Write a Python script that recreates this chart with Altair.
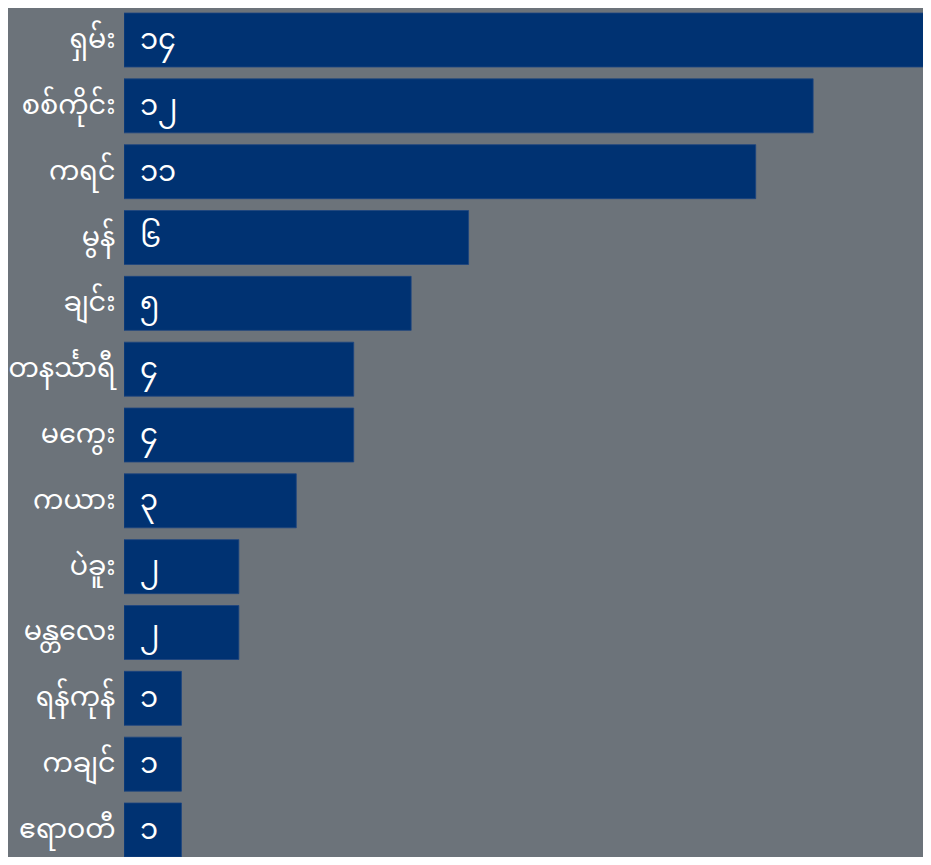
import altair as alt
import pandas as pd

regions = ["ရှမ်း", "စစ်ကိုင်း", "ကရင်", "မွန်", "ချင်း", "တနင်္သာရီ", "မကွေး",
           "ကယား", "ပဲခူး", "မန္တလေး", "ရန်ကုန်", "ကချင်", "ဧရာဝတီ"]
counts = [14, 12, 11, 6, 5, 4, 4, 3, 2, 2, 1, 1, 1]

digits = str.maketrans("0123456789", "၀၁၂၃၄၅၆၇၈၉")
df = pd.DataFrame({
    "region": regions,
    "count": counts,
    "label": [str(c).translate(digits) for c in counts],
})

FONT = "Noto Sans Myanmar, Noto Sans, sans-serif"
BG = "#6c737a"
BAR = "#003272"

y_enc = alt.Y(
    "region:N",
    sort=regions,
    scale=alt.Scale(range=[-0.9, 854.9], paddingInner=0.18, paddingOuter=0.09),
    axis=alt.Axis(title=None, ticks=False, domain=False, labelColor="white",
                  labelFont=FONT, labelFontSize=27, labelPadding=9,
                  labelLimit=200),
)
x_scale = alt.Scale(domain=[0, 13.913], nice=False, zero=True)

bars = alt.Chart(df).mark_bar(color=BAR, clip=True, stroke="#1d4580",
                              strokeWidth=0.8).encode(
    x=alt.X("count:Q", scale=x_scale, axis=None),
    y=y_enc,
)

texts = alt.Chart(df).mark_text(align="left", baseline="middle", dx=16, dy=0,
                                color="white", font=FONT, fontSize=29).encode(
    x=alt.datum(0, scale=x_scale),
    y=alt.Y("region:N", sort=regions),
    text="label:N",
)

chart = alt.layer(bars, texts).properties(
    width=799, height=849,
    autosize=alt.AutoSizeParams(type="none"),
    padding={"left": 116, "top": 0, "right": 0, "bottom": 0},
    background=BG,
).configure_view(strokeWidth=0)

chart.save("out.html", embed_options={"renderer": "svg", "actions": False})
